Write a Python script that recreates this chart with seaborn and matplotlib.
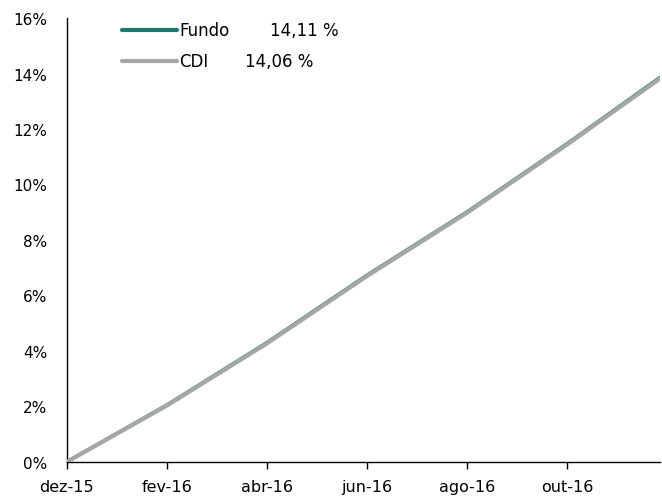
import seaborn as sns
import pandas as pd
import matplotlib.pyplot as plt

# business-day index of the points
dias = [0, 42, 84, 126, 168, 210, 249]
fundo = [0.0, 2.05, 4.30, 6.73, 9.01, 11.47, 13.86]
cdi = [0.0, 2.03, 4.27, 6.70, 8.98, 11.44, 13.82]
tick_pos = [0, 42, 84, 126, 168, 210]
tick_labels = ["dez-15", "fev-16", "abr-16", "jun-16", "ago-16", "out-16"]
nomes = ["Fundo", "CDI"]
rent = ["14,11 %", "14,06 %"]
cores = ["#1a7a70", "#a6a6a6"]

df = pd.DataFrame({"dia": dias * 2,
                   "valor": fundo + cdi,
                   "serie": ["Fundo"] * len(dias) + ["CDI"] * len(dias)})

sns.set_style("white")
plt.rcParams["font.family"] = ["DejaVu Sans"]

fig = plt.figure(figsize=(6.62, 5.02), dpi=100)
ax = fig.add_axes([0.101, 0.078, 0.896, 0.884])

sns.lineplot(data=df, x="dia", y="valor", hue="serie", hue_order=nomes,
             palette=cores, linewidth=3, ax=ax, legend=False)
# teal underneath, grey on top like the original
ax.lines[0].set_linewidth(2.5)
ax.lines[1].set_zorder(3)

ax.set_xlim(0, 249)
ax.set_ylim(0, 16)
ax.set_yticks(range(0, 17, 2))
ax.set_yticklabels([f"{v}%" for v in range(0, 17, 2)], fontsize=11, color="black")
ax.set_xticks(tick_pos)
ax.set_xticklabels(tick_labels, fontsize=11.5, color="black")
ax.set_xlabel("")
ax.set_ylabel("")

for s in ["top", "right"]:
    ax.spines[s].set_visible(False)
for s in ["left", "bottom"]:
    ax.spines[s].set_color("black")
    ax.spines[s].set_linewidth(1)
ax.tick_params(axis="x", bottom=True, direction="out", length=5, width=1,
               color="black", pad=7)
ax.tick_params(axis="y", left=False, length=0, pad=14)

# legend drawn by hand
for nome, r, cor, y, xr in zip(nomes, rent, cores, [0.973, 0.903], [0.342, 0.300]):
    ax.plot([0.093, 0.185], [y, y], color=cor, linewidth=3,
            transform=ax.transAxes, clip_on=False, solid_capstyle="round")
    ax.text(0.19, y, nome, transform=ax.transAxes, va="center", fontsize=12, color="black")
    ax.text(xr, y, r, transform=ax.transAxes, va="center", fontsize=12, color="black")

fig.savefig("out.png", dpi=100)
